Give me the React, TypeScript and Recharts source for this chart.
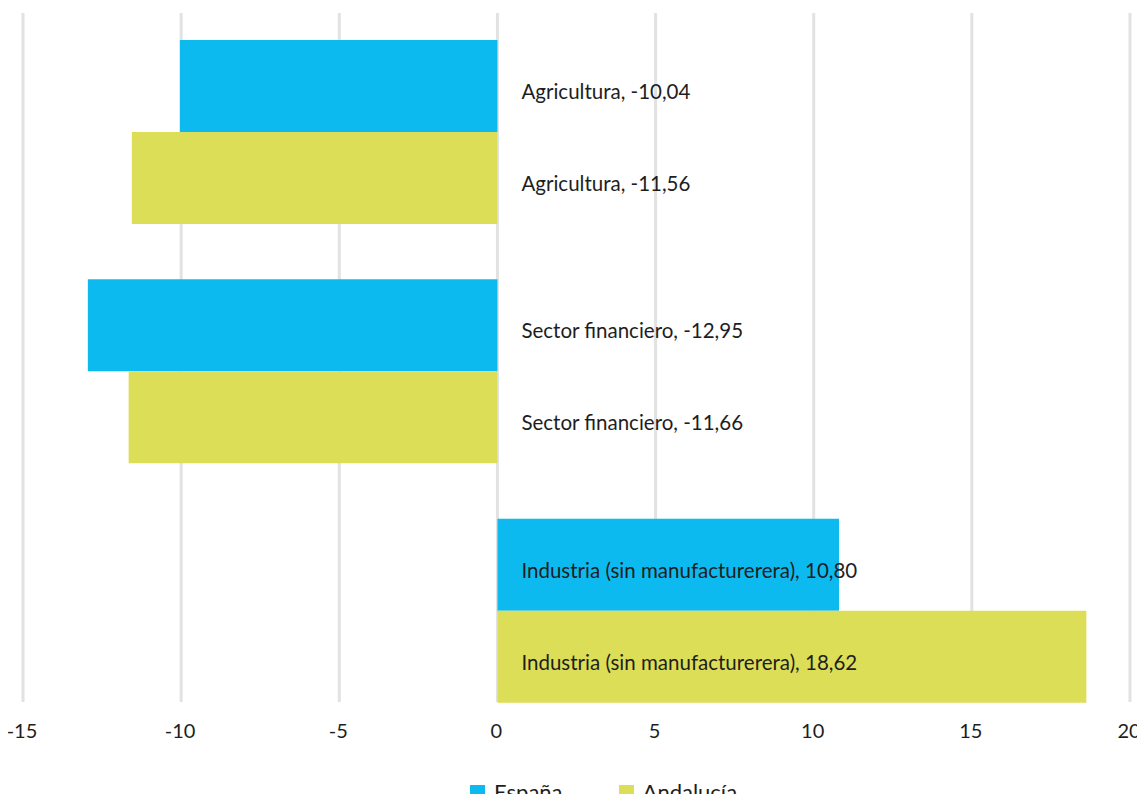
import React from 'react';
import { BarChart, Bar, XAxis, YAxis, CartesianGrid, Legend, LabelList } from 'recharts';

const categories = ['Agricultura', 'Sector financiero', 'Industria (sin manufacturerera)'];
const espana = [-10.04, -12.95, 10.8];
const andalucia = [-11.56, -11.66, 18.62];
const xTicks = [-15, -10, -5, 0, 5, 10, 15, 20];

const seriesNames = ['España', 'Andalucía'];
const colors = ['#0dbaef', '#dcde57'];

const data = categories.map((name, i) => ({ name, espana: espana[i], andalucia: andalucia[i] }));

const font = 'Lato, "Open Sans", sans-serif';
const textColor = '#1e1e1e';

const fmt = (v: number) => v.toFixed(2).replace('.', ',');

const BarLabel = (props: any) => {
	const { x, y, width, height, value, index } = props;
	// labels always start just right of the zero line
	const zero = value < 0 ? Math.max(x, x + width) : Math.min(x, x + width);
	return (
		<text x={zero + 24} y={y + height / 2 + 13} fontFamily={font} fontSize={20.5} fill={textColor}>
			{`${categories[index]}, ${fmt(value)}`}
		</text>
	);
};

const XTick = (props: any) => {
	const { x, y, payload } = props;
	return (
		<text x={x - 1} y={y + 8} textAnchor="middle" fontFamily={font} fontSize={20} fill={textColor}>
			{payload.value}
		</text>
	);
};

const GridLine = (props: any) => (
	<line
		key={`grid-${props.index}`}
		x1={props.x1}
		x2={props.x2}
		y1={props.y1 + 1}
		y2={props.y2 - 28}
		stroke="#e2e2e2"
		strokeWidth={3}
	/>
);

const LegendContent = () => (
	<div style={{ display: 'flex', height: 20, fontFamily: font, fontSize: 22, color: textColor }}>
		{seriesNames.map((n, i) => (
			<div key={n} style={{ display: 'flex', alignItems: 'flex-start', marginRight: 56 }}>
				<span style={{ width: 15, height: 15, marginTop: 3, marginRight: 9, background: colors[i] }} />
				<span style={{ lineHeight: '26px', marginTop: -3 }}>{n}</span>
			</div>
		))}
	</div>
);

export default function App() {
	return (
		<div style={{ width: 1137, height: 794, overflow: 'hidden', marginBottom: -8 }}>
			<BarChart
				width={1137}
				height={794}
				data={data}
				layout="vertical"
				margin={{ top: 4, right: 15, left: 15, bottom: 0 }}
				barCategoryGap={28}
				barGap={0}
			>
				<CartesianGrid horizontal={false} vertical={GridLine} />
				<XAxis
					type="number"
					domain={[-15, 20]}
					ticks={xTicks}
					height={52}
					tickSize={0}
					tickMargin={0}
					tickLine={false}
					axisLine={false}
					tick={<XTick />}
					interval={0}
				/>
				<YAxis type="category" dataKey="name" hide />
				<Legend
					verticalAlign="bottom"
					content={<LegendContent />}
					wrapperStyle={{ left: 462, top: 774, bottom: 'auto', width: 'auto', height: 20 }}
				/>
				<Bar dataKey="espana" name={seriesNames[0]} fill={colors[0]} isAnimationActive={false}>
					<LabelList dataKey="espana" content={<BarLabel />} />
				</Bar>
				<Bar dataKey="andalucia" name={seriesNames[1]} fill={colors[1]} isAnimationActive={false}>
					<LabelList dataKey="andalucia" content={<BarLabel />} />
				</Bar>
			</BarChart>
		</div>
	);
}
